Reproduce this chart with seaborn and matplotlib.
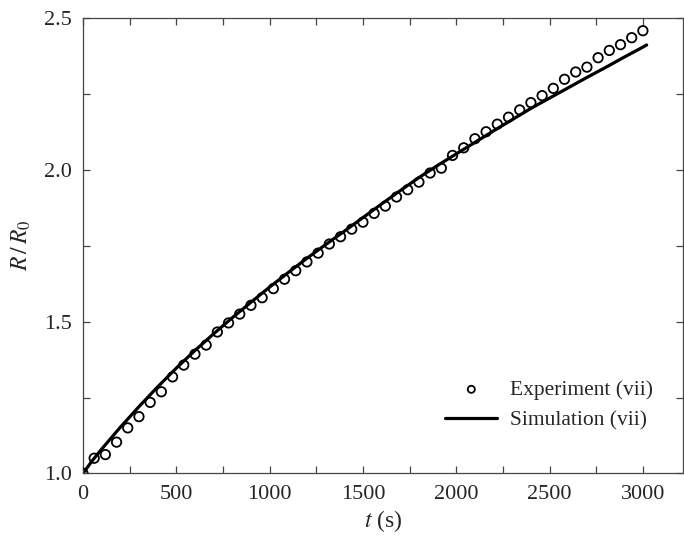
import numpy as np
import pandas as pd
import matplotlib
matplotlib.use("Agg")
import matplotlib.pyplot as plt
import seaborn as sns
from matplotlib.ticker import MultipleLocator

# experiment (vii)
t_exp = np.arange(0, 3001, 60)
r_exp = [1.000, 1.050, 1.062, 1.103, 1.150, 1.187, 1.234, 1.269, 1.318, 1.357,
         1.393, 1.423, 1.466, 1.496, 1.525, 1.554, 1.579, 1.609, 1.640, 1.668,
         1.697, 1.726, 1.756, 1.780, 1.805, 1.828, 1.857, 1.881, 1.911, 1.935,
         1.960, 1.990, 2.006, 2.048, 2.073, 2.103, 2.126, 2.151, 2.174, 2.198,
         2.222, 2.245, 2.269, 2.299, 2.323, 2.339, 2.370, 2.394, 2.413, 2.436,
         2.459]

# simulation (vii)
t_sim = [0, 50, 100, 200, 300, 400, 500, 600, 700, 800, 900, 1000, 1100, 1200,
         1300, 1400, 1500, 1600, 1700, 1800, 1900, 2000, 2100, 2200, 2300, 2400,
         2500, 2600, 2700, 2800, 2900, 3000, 3020]
r_sim = [1.000, 1.042, 1.080, 1.152, 1.220, 1.285, 1.347, 1.405, 1.460, 1.513,
         1.564, 1.614, 1.662, 1.709, 1.754, 1.798, 1.843, 1.888, 1.932, 1.975,
         2.015, 2.053, 2.091, 2.129, 2.166, 2.203, 2.237, 2.271, 2.305, 2.338,
         2.372, 2.405, 2.412]

exp = pd.DataFrame({"t": t_exp, "R": r_exp})
sim = pd.DataFrame({"t": t_sim, "R": r_sim})

sns.set_style("ticks")
plt.rcParams["font.family"] = ["Liberation Serif", "DejaVu Serif"]
plt.rcParams["mathtext.fontset"] = "stix"
plt.rcParams["font.size"] = 16

fig = plt.figure(figsize=(6.84, 5.36), dpi=100)
ax = fig.add_axes([0.1213, 0.1168, 0.877, 0.8491])

sns.scatterplot(data=exp, x="t", y="R", ax=ax, marker="o", s=46,
                facecolors="none", edgecolor="black", linewidth=1.3,
                label="Experiment (vii)", zorder=3)
sns.lineplot(data=sim, x="t", y="R", ax=ax, color="black", linewidth=2.3,
             label="Simulation (vii)", zorder=2)

ax.set_xlim(0, 3214)
ax.set_ylim(1.0, 2.5)
ax.xaxis.set_major_locator(MultipleLocator(500))
ax.xaxis.set_minor_locator(MultipleLocator(250))
ax.yaxis.set_major_locator(MultipleLocator(0.5))
ax.yaxis.set_minor_locator(MultipleLocator(0.25))
ax.yaxis.set_major_formatter(matplotlib.ticker.FormatStrFormatter("%.1f"))
ax.tick_params(which="both", direction="in", top=True, right=True,
               length=5, width=0.9, color="#444444", labelsize=16, pad=8)
for sp in ax.spines.values():
    sp.set_color("#444444")
    sp.set_linewidth(0.9)

ax.set_xlabel(r"$t$ (s)", fontsize=17, labelpad=3)
ax.set_ylabel(r"$R\,/\,R_0$", fontsize=17, labelpad=8)

ax.legend(loc="upper left", bbox_to_anchor=(0.572, 0.248), frameon=False,
          fontsize=15.5, markerscale=0.75, handlelength=2.4, handletextpad=0.6,
          labelspacing=0.5)

fig.savefig("out.png", dpi=100)
